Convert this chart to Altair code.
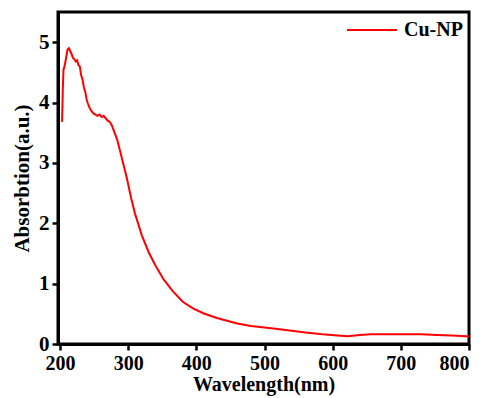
import altair as alt
import pandas as pd

wavelength = [203, 204, 205, 207, 209, 211, 213, 215, 217, 219, 221, 223, 225, 227, 229,
              231, 233, 235, 237, 239, 241, 243, 246, 249, 252, 255, 258, 261, 264, 267,
              270, 273, 276, 280, 284, 288, 292, 298, 304, 310, 320, 330, 340, 352, 365,
              380, 395, 410, 430, 460, 480, 510, 540, 560, 585, 607, 622, 640, 656, 680,
              704, 730, 753, 775, 795, 800]
absorbance = [3.68, 4.2, 4.54, 4.62, 4.75, 4.88, 4.9, 4.85, 4.8, 4.74, 4.72, 4.68, 4.7, 4.62, 4.6,
              4.45, 4.38, 4.25, 4.18, 4.05, 3.98, 3.92, 3.86, 3.82, 3.8, 3.78, 3.8, 3.76, 3.78, 3.74,
              3.7, 3.68, 3.62, 3.5, 3.38, 3.2, 3.02, 2.75, 2.43, 2.16, 1.8, 1.52, 1.3, 1.07, 0.88,
              0.7, 0.59, 0.51, 0.43, 0.34, 0.3, 0.26, 0.22, 0.19, 0.16, 0.14, 0.13, 0.15, 0.16, 0.16,
              0.16, 0.16, 0.15, 0.14, 0.13, 0.13]
series = ["Cu-NP"] * len(wavelength)

df = pd.DataFrame({"Wavelength": wavelength, "Absorbance": absorbance, "Series": series})

FONT = "Liberation Serif"

chart = alt.Chart(df).mark_line(strokeWidth=2, clip=True).encode(
    x=alt.X("Wavelength:Q", scale=alt.Scale(domain=[197, 800], nice=False, zero=False),
            axis=alt.Axis(title="Wavelength(nm)", values=[200, 300, 400, 500, 600, 700, 800],
                          titlePadding=1, labelPadding=3, labelFontSize=20, titleFontSize=20)),
    y=alt.Y("Absorbance:Q", scale=alt.Scale(domain=[0, 5.5], nice=False),
            axis=alt.Axis(title="Absorbtion(a.u.)", values=[0, 1, 2, 3, 4, 5], titlePadding=6,
                          labelPadding=3)),
    color=alt.Color("Series:N", scale=alt.Scale(range=["#ff0000"]),
                    legend=alt.Legend(title=None, orient="none", legendX=288, legendY=-8,
                                      symbolType="stroke", symbolSize=2500, symbolStrokeWidth=2,
                                      labelFont=FONT, labelFontSize=20, labelFontWeight="bold",
                                      labelColor="black", padding=0, labelOffset=6)),
).properties(
    width=411, height=332,
    autosize=alt.AutoSizeParams(type="none"),
    padding={"left": 50, "top": 4, "right": 10, "bottom": 54},
).configure_view(
    stroke="black", strokeWidth=3
).configure_axis(
    domainColor="black", domainWidth=3, tickColor="black", tickWidth=2.5, tickSize=6,
    labelFont=FONT, labelFontSize=21, labelFontWeight="bold", labelColor="black",
    titleFont=FONT, titleFontSize=21, titleFontWeight="bold", titleColor="black", grid=False,
)

chart.save("out.html", embed_options={"renderer": "svg", "actions": False})
